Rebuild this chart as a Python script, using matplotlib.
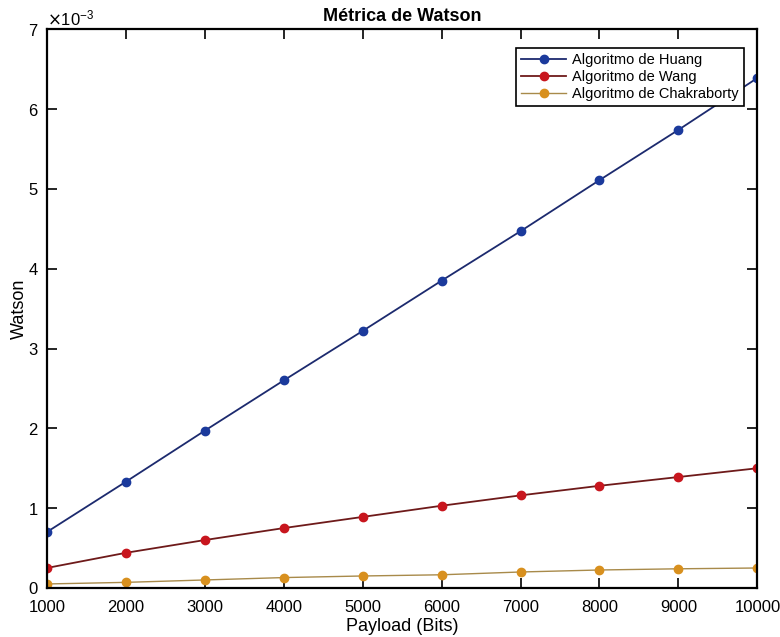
import matplotlib.pyplot as plt
import numpy as np
from matplotlib.ticker import ScalarFormatter

plt.rcParams['font.family'] = ['Liberation Sans', 'DejaVu Sans']

payload = [1000, 2000, 3000, 4000, 5000, 6000, 7000, 8000, 9000, 10000]
huang = [0.70, 1.33, 1.97, 2.60, 3.22, 3.85, 4.47, 5.11, 5.74, 6.39]
wang = [0.25, 0.44, 0.60, 0.75, 0.89, 1.03, 1.16, 1.28, 1.39, 1.50]
chakraborty = [0.05, 0.07, 0.10, 0.13, 0.15, 0.165, 0.20, 0.225, 0.24, 0.25]

scale = 1e-3
huang = np.array(huang) * scale
wang = np.array(wang) * scale
chakraborty = np.array(chakraborty) * scale

fig = plt.figure(figsize=(7.8, 6.37), dpi=100)
ax = fig.add_axes([0.060, 0.077, 0.911, 0.877])

ax.plot(payload, huang, '-o', color='#1c2a6e', mfc='#1b3a9c', mec='#1b3a9c',
        markersize=6, lw=1.3, label='Algoritmo de Huang')
ax.plot(payload, wang, '-o', color='#6e1a1a', mfc='#c8161e', mec='#c8161e',
        markersize=6, lw=1.3, label='Algoritmo de Wang')
ax.plot(payload, chakraborty, '-o', color='#a88a4a', mfc='#d8901e', mec='#d8901e',
        markersize=6, lw=1.0, label='Algoritmo de Chakraborty')

ax.set_xlim(1000, 10000)
ax.set_ylim(0, 7e-3)
ax.set_xticks(payload)
ax.set_yticks(np.arange(0, 8) * scale)

fmt = ScalarFormatter(useMathText=True)
fmt.set_powerlimits((-2, 2))
ax.yaxis.set_major_formatter(fmt)
ax.yaxis.get_offset_text().set_fontsize(12)

ax.tick_params(direction='in', top=True, right=True, length=7, width=1.2,
               labelsize=12)
ax.tick_params(axis='x', pad=9)
ax.tick_params(axis='y', pad=6)
for s in ax.spines.values():
    s.set_linewidth(1.6)

ax.set_title('Métrica de Watson', fontsize=13, fontweight='bold', pad=6)
ax.set_xlabel('Payload (Bits)', fontsize=13, labelpad=2)
ax.set_ylabel('Watson', fontsize=13, labelpad=0)

leg = ax.legend(loc='upper right', bbox_to_anchor=(0.981, 0.966), borderaxespad=0,
                fontsize=10.5, fancybox=False, framealpha=1,
                edgecolor='black', handlelength=3.1, handletextpad=0.4,
                borderpad=0.35, labelspacing=0.2)
leg.get_frame().set_linewidth(1.2)

fig.savefig('out.png', dpi=100)
